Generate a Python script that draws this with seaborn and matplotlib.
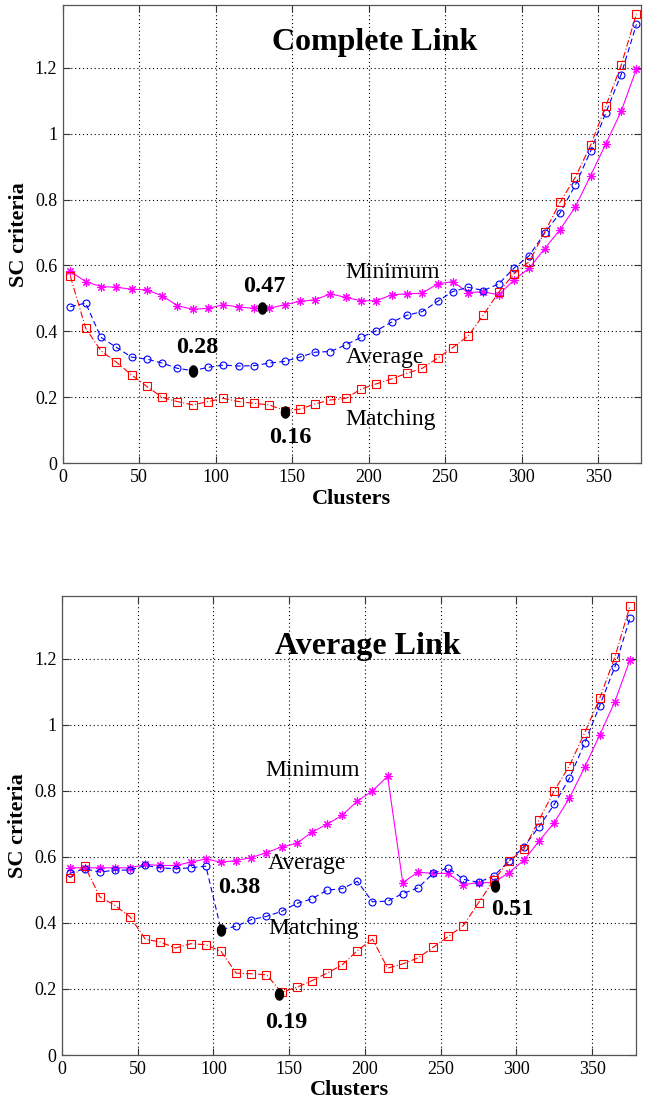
import numpy as np
import seaborn as sns
import matplotlib
matplotlib.use('Agg')
import matplotlib.pyplot as plt

# numero de clusters (mesmo eixo para os dois graficos)
clusters = list(range(5, 380, 10))

# Complete Link
cl_minimo = [0.582, 0.551, 0.536, 0.534, 0.528, 0.526, 0.508, 0.478, 0.467, 0.470,
             0.481, 0.474, 0.470, 0.470, 0.481, 0.491, 0.496, 0.514, 0.503, 0.493,
             0.493, 0.511, 0.514, 0.516, 0.544, 0.551, 0.518, 0.520, 0.511, 0.556,
             0.592, 0.651, 0.708, 0.777, 0.872, 0.969, 1.067, 1.196]
cl_media = [0.475, 0.486, 0.382, 0.352, 0.322, 0.316, 0.304, 0.288, 0.281, 0.291,
            0.298, 0.295, 0.296, 0.304, 0.309, 0.322, 0.337, 0.339, 0.359, 0.382,
            0.402, 0.428, 0.449, 0.460, 0.491, 0.521, 0.534, 0.524, 0.544, 0.592,
            0.630, 0.698, 0.759, 0.843, 0.946, 1.063, 1.179, 1.331]
cl_matching = [0.567, 0.410, 0.341, 0.307, 0.268, 0.233, 0.200, 0.187, 0.177, 0.187,
               0.197, 0.187, 0.182, 0.177, 0.160, 0.164, 0.180, 0.192, 0.197, 0.225,
               0.241, 0.256, 0.273, 0.288, 0.319, 0.351, 0.386, 0.450, 0.519, 0.575,
               0.612, 0.701, 0.791, 0.867, 0.964, 1.083, 1.207, 1.363]

# Average Link
al_minimo = [0.567, 0.567, 0.567, 0.567, 0.567, 0.577, 0.574, 0.574, 0.584, 0.594,
             0.584, 0.589, 0.598, 0.613, 0.630, 0.641, 0.675, 0.699, 0.726, 0.769,
             0.800, 0.844, 0.522, 0.554, 0.550, 0.550, 0.516, 0.522, 0.522, 0.552,
             0.590, 0.648, 0.704, 0.778, 0.871, 0.969, 1.070, 1.197]
al_media = [0.550, 0.564, 0.554, 0.560, 0.560, 0.574, 0.567, 0.564, 0.567, 0.572,
            0.380, 0.390, 0.410, 0.420, 0.435, 0.459, 0.473, 0.499, 0.504, 0.526,
            0.464, 0.466, 0.489, 0.506, 0.550, 0.567, 0.532, 0.523, 0.542, 0.587,
            0.631, 0.692, 0.759, 0.838, 0.944, 1.058, 1.175, 1.323]
al_matching = [0.537, 0.572, 0.479, 0.453, 0.418, 0.351, 0.342, 0.324, 0.337, 0.334,
               0.314, 0.248, 0.246, 0.243, 0.190, 0.205, 0.225, 0.248, 0.273, 0.316,
               0.351, 0.263, 0.276, 0.294, 0.326, 0.359, 0.392, 0.461, 0.529, 0.587,
               0.623, 0.712, 0.800, 0.876, 0.975, 1.080, 1.205, 1.360]

# pontos otimos (x, y, texto)
cl_otimos = [(130, 0.470, '0.47'), (85, 0.281, '0.28'), (145, 0.157, '0.16')]
al_otimos = [(105, 0.380, '0.38'), (143, 0.185, '0.19'), (286, 0.513, '0.51')]

xticks = [0, 50, 100, 150, 200, 250, 300, 350]
yticks = [0, 0.2, 0.4, 0.6, 0.8, 1.0, 1.2]
ytick_labels = ['0', '0.2', '0.4', '0.6', '0.8', '1', '1.2']

sns.set_theme(style='white')
plt.rcParams['font.family'] = ['Liberation Serif', 'DejaVu Serif']
plt.rcParams['text.color'] = 'black'
plt.rcParams['axes.labelcolor'] = 'black'
plt.rcParams['xtick.direction'] = 'in'
plt.rcParams['ytick.direction'] = 'in'

# marcador elíptico (mais alto que largo) para os pontos ótimos
t = np.linspace(0, 2 * np.pi, 40)
elipse = list(zip(0.72 * np.cos(t), np.sin(t)))

fig = plt.figure(figsize=(6.45, 11.11), dpi=100)
ax1 = fig.add_axes([0.0972, 0.583, 0.8966, 0.4125])
ax2 = fig.add_axes([0.0961, 0.0504, 0.890, 0.4131])


def desenha(ax, minimo, media, matching, xmax):
    sns.lineplot(x=clusters, y=minimo, ax=ax, color='#ff00ff', linestyle='-',
                 marker=(8, 2, 0), markersize=6, mec='#ff00ff', mew=0.8, lw=0.8)
    sns.lineplot(x=clusters, y=media, ax=ax, color='#0000ff', linestyle=(0, (5, 3)),
                 marker='o', markersize=5, mfc='none', mec='#0000ff', mew=0.8, lw=0.8)
    sns.lineplot(x=clusters, y=matching, ax=ax, color='#ff0000', linestyle=(0, (6, 2, 1, 2)),
                 marker='s', markersize=5.2, mfc='none', mec='#ff0000', mew=0.8, lw=0.8)
    ax.set_xlim(0, xmax)
    ax.set_ylim(0, 1.39)
    ax.set_xticks(xticks)
    ax.set_yticks(yticks)
    ax.set_yticklabels(ytick_labels)
    ax.tick_params(labelsize=13, length=5, width=0.8, top=True, right=True,
                   bottom=True, left=True, colors='#333333', labelcolor='black', pad=4)
    ax.grid(True, linestyle=(0, (1, 2.5)), color='black', linewidth=0.8)
    for s in ax.spines.values():
        s.set_color('#555555')
        s.set_linewidth(0.9)
    ax.set_xlabel('Clusters', fontsize=16, fontweight='bold', labelpad=2)
    ax.set_ylabel('SC criteria', fontsize=16, fontweight='bold', labelpad=4)


desenha(ax1, cl_minimo, cl_media, cl_matching, 378)
desenha(ax2, al_minimo, al_media, al_matching, 379)

# titulos e rotulos
ax1.text(204, 1.255, 'Complete Link', fontsize=23, fontweight='bold', ha='center', va='baseline')
ax1.text(185, 0.563, 'Minimum', fontsize=17, ha='left', va='baseline')
ax1.text(185, 0.305, 'Average', fontsize=17, ha='left', va='baseline')
ax1.text(185, 0.116, 'Matching', fontsize=17, ha='left', va='baseline')

ax2.text(202, 1.215, 'Average Link', fontsize=23, fontweight='bold', ha='center', va='baseline')
ax2.text(134, 0.845, 'Minimum', fontsize=17, ha='left', va='baseline')
ax2.text(136, 0.562, 'Average', fontsize=17, ha='left', va='baseline')
ax2.text(136, 0.365, 'Matching', fontsize=17, ha='left', va='baseline')

cl_pos_txt = [(118, 0.521), (74, 0.335), (135, 0.061)]
al_pos_txt = [(103, 0.491), (134, 0.081), (283, 0.425)]

for ax, otimos, posicoes in [(ax1, cl_otimos, cl_pos_txt), (ax2, al_otimos, al_pos_txt)]:
    for (x, y, txt), (tx, ty) in zip(otimos, posicoes):
        ax.plot(x, y, marker=elipse, color='black', markersize=8, zorder=5)
        ax.text(tx, ty, txt, fontsize=17.5, fontweight='bold', ha='left', va='baseline')

fig.savefig('out.png', dpi=100)
